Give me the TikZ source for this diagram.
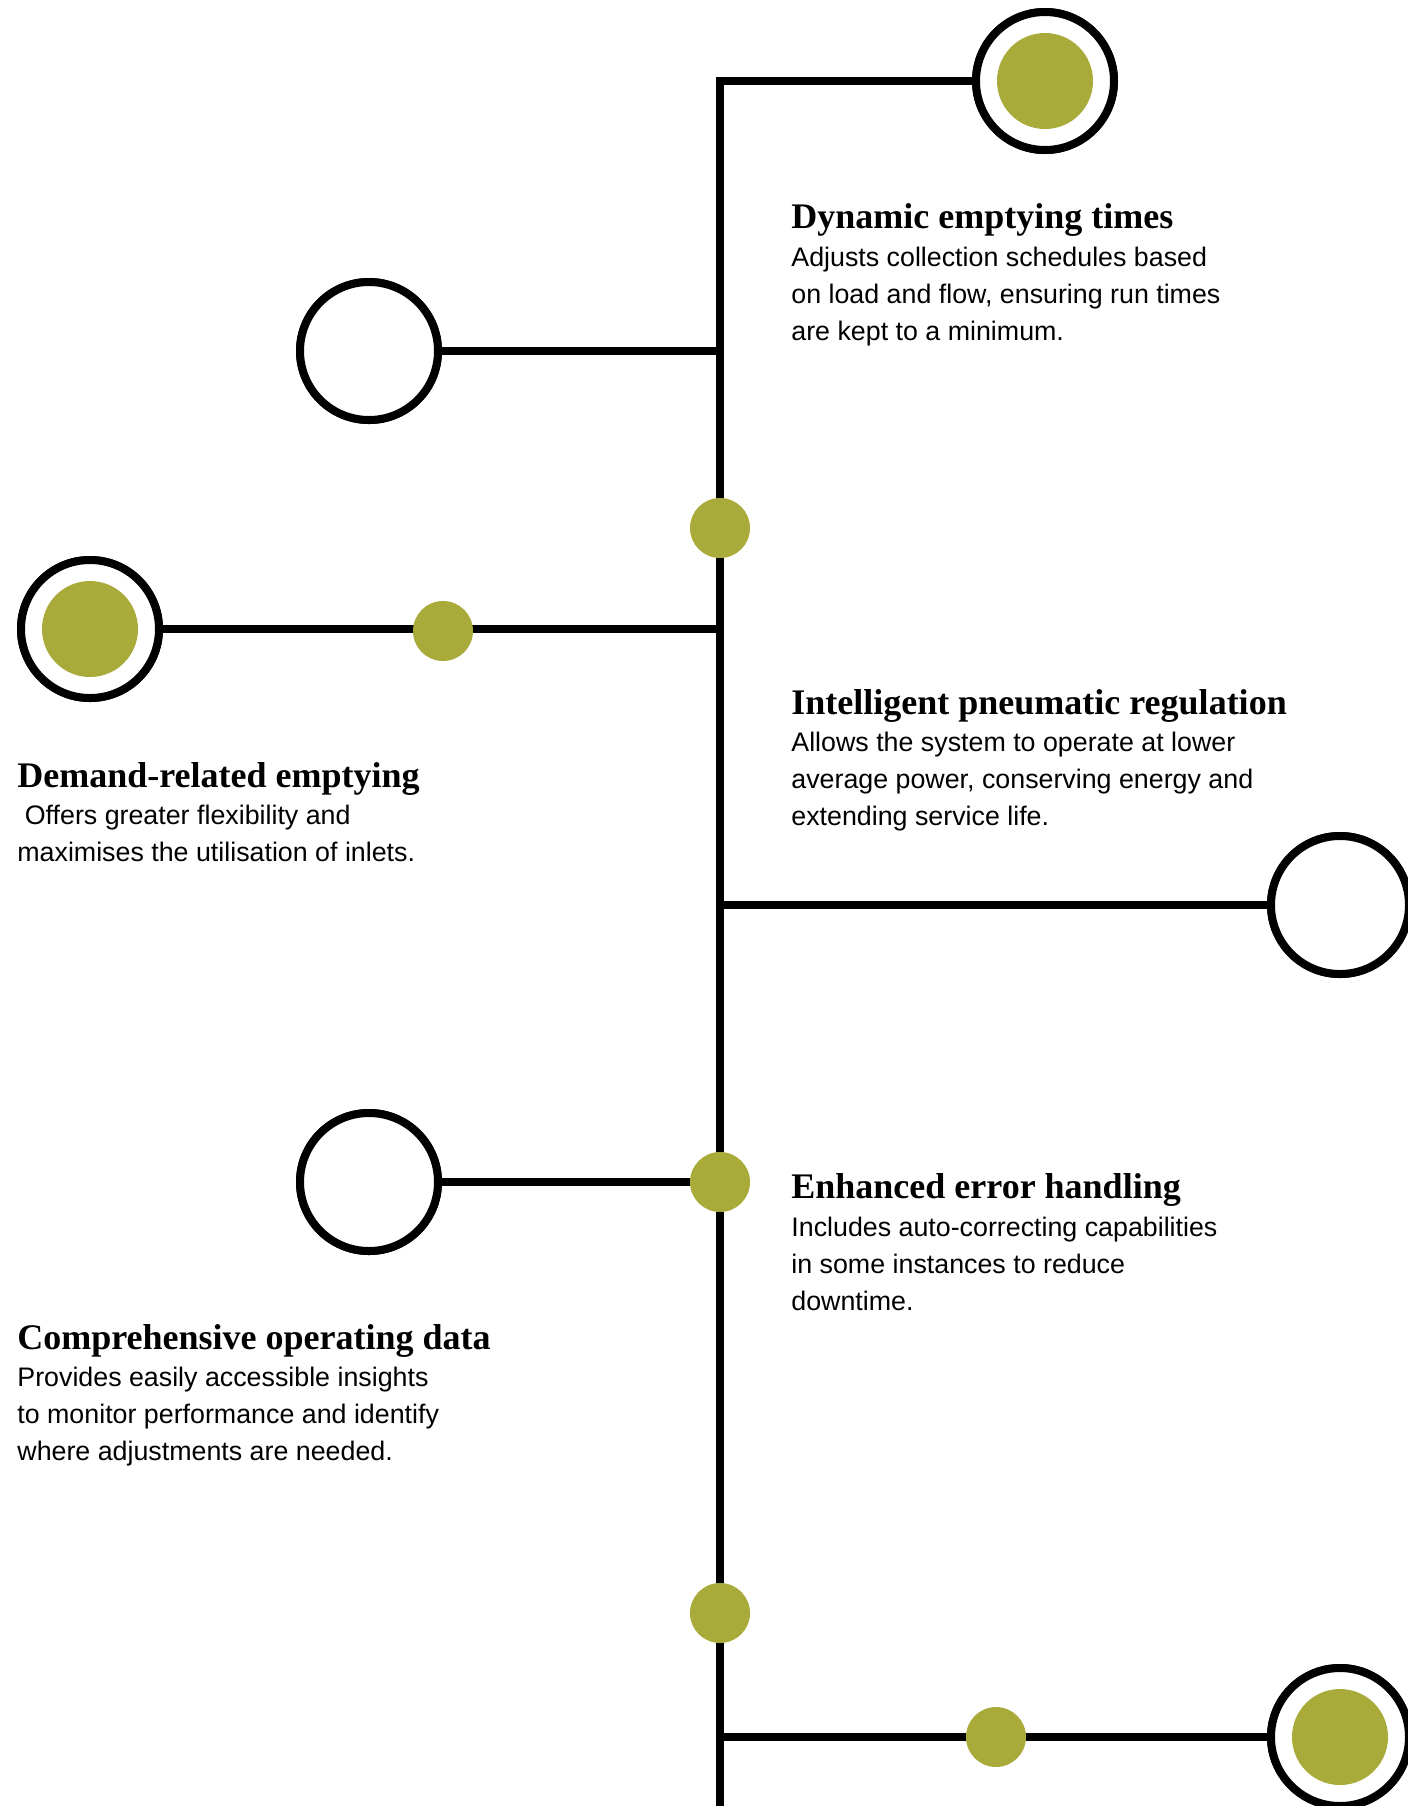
\documentclass[tikz,border=0pt]{standalone}
\usepackage{fontspec}
\newfontfamily\titlef{Liberation Serif}
\newfontfamily\bodyf{Liberation Sans}
\definecolor{olive}{RGB}{168,170,58}
\tikzset{
  ttl/.style={font=\titlef\bfseries\fontsize{18pt}{22pt}\selectfont, anchor=base west, inner sep=0pt, text=black},
  bdy/.style={font=\bodyf\fontsize{13.4pt}{18.5pt}\selectfont, anchor=base west, inner sep=0pt, text=black},
  ring/.style={circle, draw=black, line width=4pt, fill=white, minimum size=69pt, inner sep=0pt},
  core/.style={circle, fill=olive, minimum size=48pt, inner sep=0pt},
  dot/.style={circle, fill=olive, minimum size=30pt, inner sep=0pt},
  wire/.style={draw=black, line width=4pt, line join=miter, line cap=butt}
}
\begin{document}
\begin{tikzpicture}[x=0.5pt, y=-0.5pt]
\clip (0,0) rectangle (1408,1806);
\fill[white] (0,0) rectangle (1408,1806);

% rings (placed first so connectors can reference them; redrawn on top)
\node[ring] (r1) at (1045,81) {};
\node[ring] (rA) at (369,351) {};
\node[ring] (rB) at (90,629) {};
\node[ring] (rC) at (1340,905) {};
\node[ring] (rD) at (369,1182) {};
\node[ring] (rE) at (1340,1737) {};

% junction coordinates on the spine
\coordinate (top) at (720,81);
\coordinate (jA) at (720,351);
\coordinate (jB) at (720,629);
\coordinate (jC) at (720,905);
\coordinate (jD) at (720,1182);
\coordinate (jE) at (720,1737);
\coordinate (bot) at (720,1830);

% connectors
\draw[wire] (r1.west) -- (top) -- (bot);
\draw[wire] (rA.east) -- (jA);
\draw[wire] (rB.east) -- (jB);
\draw[wire] (jC) -- (rC.west);
\draw[wire] (rD.east) -- (jD);
\draw[wire] (jE) -- (rE.west);

% rings on top with cores
\node[ring] at (r1) {};
\node[core] (c1) at (r1) {};
\node[ring] at (rA) {};
\node[ring] at (rB) {};
\node[core] (cB) at (rB) {};
\node[ring] at (rC) {};
\node[ring] at (rD) {};
\node[ring] at (rE) {};
\node[core] (cE) at (rE) {};

% dots
\node[dot] (d1) at (720,528) {};
\node[dot] (d2) at (443,631) {};
\node[dot] (d3) at (720,1182) {};
\node[dot] (d4) at (720,1613) {};
\node[dot] (d5) at (996,1737) {};

% texts
\node[ttl] (t1) at (791,228) {Dynamic emptying times};
\node[bdy] (t1a) at (791,266) {Adjusts collection schedules based};
\node[bdy] (t1b) at (791,303) {on load and flow, ensuring run times};
\node[bdy] (t1c) at (791,340) {are kept to a minimum.};

\node[ttl] (t2) at (791,714) {Intelligent pneumatic regulation};
\node[bdy] (t2a) at (791,751) {Allows the system to operate at lower};
\node[bdy] (t2b) at (791,788) {average power, conserving energy and};
\node[bdy] (t2c) at (791,825) {extending service life.};

\node[ttl] (t3) at (17,787) {Demand-related emptying};
\node[bdy] (t3a) at (17,824) {\ Offers greater flexibility and};
\node[bdy] (t3b) at (17,861) {maximises the utilisation of inlets.};

\node[ttl] (t4) at (791,1198) {Enhanced error handling};
\node[bdy] (t4a) at (791,1236) {Includes auto-correcting capabilities};
\node[bdy] (t4b) at (791,1273) {in some instances to reduce};
\node[bdy] (t4c) at (791,1310) {downtime.};

\node[ttl] (t5) at (17,1349) {Comprehensive operating data};
\node[bdy] (t5a) at (17,1386) {Provides easily accessible insights};
\node[bdy] (t5b) at (17,1423) {to monitor performance and identify};
\node[bdy] (t5c) at (17,1460) {where adjustments are needed.};
\end{tikzpicture}
\end{document}
